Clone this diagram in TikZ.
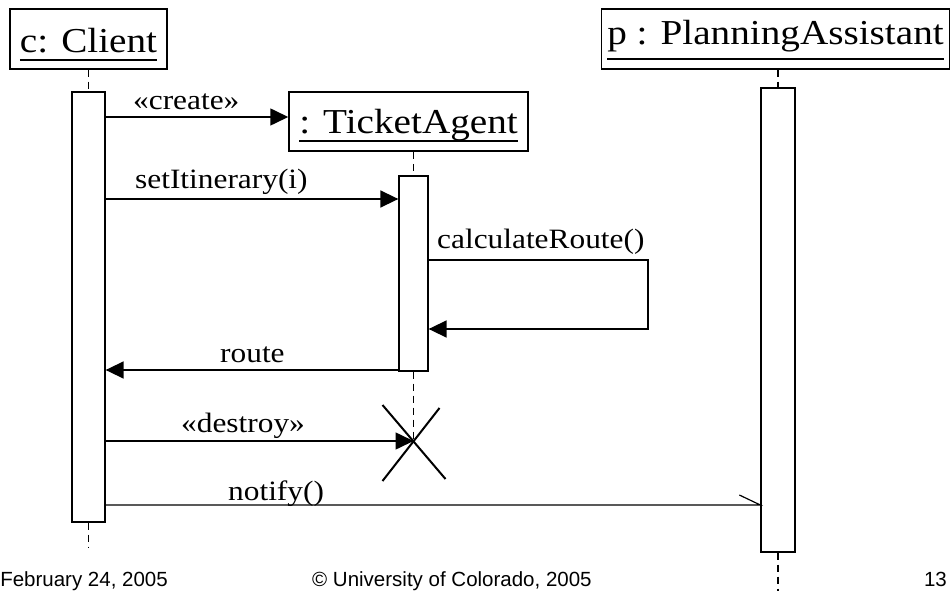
\documentclass[tikz,border=0pt]{standalone}
\usepackage{fontspec}
\setmainfont{Liberation Serif}[FakeStretch=1.12]
\setsansfont{Liberation Sans}
\usetikzlibrary{arrows.meta}

% name with a rule drawn a fixed distance under the baseline
\newcommand\ulname[2][8pt]{\setbox0\hbox{#2}\rlap{\rule[-#1]{\wd0}{1.8pt}}\box0}

\begin{document}
\begin{tikzpicture}[x=1pt,y=-1pt,
  objhead/.style={draw,line width=1.5pt,inner xsep=0pt,inner ysep=10pt,
    font=\fontsize{35}{40}\selectfont},
  actbox/.style={draw,fill=white,line width=1.3pt,inner sep=0pt},
  lifeline/.style={line width=1.3pt,dash pattern=on 7pt off 5pt},
  call/.style={line width=1.6pt,-{Triangle[length=18pt,width=17pt]}},
  async/.style={line width=1.2pt},
  msglabel/.style={anchor=base west,inner sep=0pt,font=\fontsize{28}{32}\selectfont},
  cross/.style={line width=2pt},
  footer/.style={inner sep=0pt,font=\sffamily\fontsize{20.5}{25}\selectfont}]
\useasboundingbox (0,0) rectangle (950,591);

% object heads
\node[objhead,minimum width=157pt,text height=34pt,text depth=6pt] (chead) at (88.5,39) {\ulname{c: Client}};
\node[objhead,minimum width=239pt,text height=32pt,text depth=7pt] (tahead) at (408.5,121.5) {\ulname{: TicketAgent}};
\node[objhead,minimum width=348pt,text height=26pt,text depth=14pt] (pahead) at (775.5,39) {\ulname[15pt]{p : PlanningAssistant}};

% activation bars
\node[actbox,minimum width=33pt,minimum height=430pt] (cact) at (88.5,307) {};
\node[actbox,minimum width=29pt,minimum height=195pt] (taact) at (413.5,273.5) {};
\node[actbox,minimum width=34pt,minimum height=464pt] (paact) at (778,320) {};

% lifeline ends and the destruction point
\coordinate (cend) at (88.5,547);
\coordinate (paend) at (778,591);
\coordinate (xd) at (413.5,441);
\coordinate (loop) at (648,329);

% lifelines
\draw[lifeline] (cact.north |- chead.south) -- (cact.north);
\draw[lifeline] (cact.south) -- (cend);
\draw[lifeline] (taact.north |- tahead.south) -- (taact.north);
\draw[lifeline] (taact.south) -- (xd);
\draw[lifeline] (paact.north |- pahead.south) -- (paact.north);
\draw[lifeline] (paact.south) -- (paend);

% messages
\draw[call] (cact.east |- 0,117) -- (tahead.west |- 0,117);
\node[msglabel] (lcreate) at (133,110) {«create»};

\draw[call] (cact.east |- 0,199) -- (taact.west |- 0,199);
\node[msglabel] (lset) at (135,188) {setItinerary(i)};

\draw[call] (taact.east |- 0,260) -| (loop) -- (taact.east |- loop);
\node[msglabel] (lcalc) at (437,248) {calculateRoute()};

\draw[call] (taact.west |- 0,370) -- (cact.east |- 0,370);
\node[msglabel] (lroute) at (220,362) {route};

\draw[call] (cact.east |- xd) -- (xd);
\node[msglabel] (ldestroy) at (181,432) {«destroy»};

\draw[async] (cact.east |- 0,505) -- (paact.west |- 0,505) -- ++(-21,-10);
\node[msglabel] (lnotify) at (228,500) {notify()};

% destruction mark
\draw[cross] (xd) ++(-31,-36) -- ++(63,74);
\draw[cross] (xd) ++(26,-33) -- ++(-57,73);

% footer
\node[footer,anchor=base east] (fdate) at (168,586.5) {February 24, 2005};
\node[footer,anchor=base west] (fcopy) at (312,586.5) {© University of Colorado, 2005};
\node[footer,anchor=base east] (fpage) at (947,586.5) {13};
\end{tikzpicture}
\end{document}
